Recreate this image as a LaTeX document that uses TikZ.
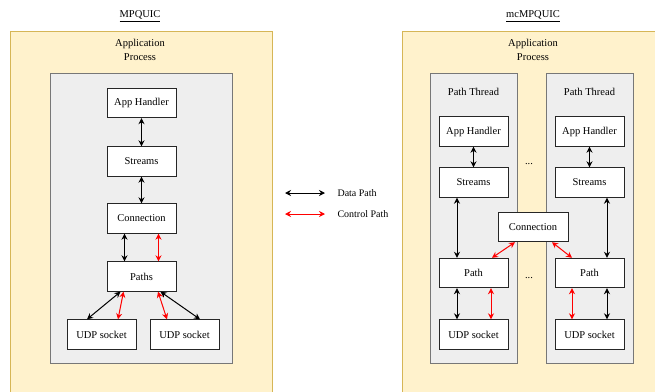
\documentclass[tikz,border=0pt]{standalone}
\usepackage{fontspec}
\setmainfont{Liberation Serif}
\usepackage{tikz}
\usetikzlibrary{arrows.meta, positioning}

\definecolor{procfill}{HTML}{FFF2CC}
\definecolor{procdraw}{HTML}{D6B656}
\definecolor{grpfill}{HTML}{EEEEEE}
\definecolor{grpdraw}{HTML}{777777}

\begin{document}
\begin{tikzpicture}[
  x=1pt, y=-1pt,
  font=\fontsize{10.5}{14}\selectfont,
  proc/.style={fill=procfill, draw=procdraw, line width=0.8pt},
  grp/.style={fill=grpfill, draw=grpdraw, line width=0.9pt},
  blk/.style={draw=black!85, fill=white, line width=0.9pt, minimum width=69pt, minimum height=29.5pt, inner sep=0pt},
  data/.style={{Stealth[length=6pt,width=6pt]}-{Stealth[length=6pt,width=6pt]}, line width=1pt, black},
  ctrl/.style={{Stealth[length=6pt,width=6pt]}-{Stealth[length=6pt,width=6pt]}, line width=1pt, red}
]
  \useasboundingbox (0,0) rectangle (655,391);
  % Process panels
  \draw[proc] (10,31) rectangle (272,400);
  \draw[proc] (402,31) rectangle (665,400);
  \node (tl) at (140,16) {\underline{MPQUIC}};
  \node (tr) at (533,16) {\underline{mcMPQUIC}};
  \node[align=center] (apl) at (140,50) {Application\\Process};
  \node[align=center] (apr) at (533,50) {Application\\Process};

  % ---- MPQUIC ----
  \draw[grp] (50,73) rectangle (232,363);
  \node[blk] (app) at (141.5,103) {App Handler};
  \node[blk] (str) at (141.5,161.5) {Streams};
  \node[blk] (con) at (141.5,218.5) {Connection};
  \node[blk] (pth) at (141.5,276.5) {Paths};
  \node[blk] (udpA) at (101.5,334.5) {UDP socket};
  \node[blk] (udpB) at (184.5,334.5) {UDP socket};
  \draw[data] (app) -- (str);
  \draw[data] (str) -- (con);
  \draw[data] ([xshift=-17pt]con.south) -- ([xshift=-17pt]pth.north);
  \draw[ctrl] ([xshift=17pt]con.south) -- ([xshift=17pt]pth.north);
  \draw[data] ([xshift=-21pt]pth.south) -- ([xshift=-14.5pt]udpA.north);
  \draw[ctrl] ([xshift=-18pt]pth.south) -- ([xshift=16.5pt]udpA.north);
  \draw[ctrl] ([xshift=16.5pt]pth.south) -- ([xshift=-17.5pt]udpB.north);
  \draw[data] ([xshift=19pt]pth.south) -- ([xshift=15.5pt]udpB.north);

  % ---- Legend ----
  \coordinate (d1) at (285,193);
  \coordinate (d2) at (325,193);
  \coordinate (c1) at (285,214);
  \coordinate (c2) at (325,214);
  \draw[data] (d1) -- (d2);
  \draw[ctrl] (c1) -- (c2);
  \node[anchor=west, font=\fontsize{10}{12}\selectfont] (ld) at (334,193) {Data Path};
  \node[anchor=west, font=\fontsize{10}{12}\selectfont] (lc) at (334,214) {Control Path};

  % ---- mcMPQUIC ----
  \foreach \s/\cx/\lx in {L/473.5/430, R/589.5/546}{
    \draw[grp] (\lx,73) rectangle (\lx+87,363);
    \node (th\s) at (\cx,92) {Path Thread};
    \node[blk] (app\s) at (\cx,131.5) {App Handler};
    \node[blk] (str\s) at (\cx,182.5) {Streams};
    \node[blk] (pth\s) at (\cx,273) {Path};
    \node[blk] (udp\s) at (\cx,334.5) {UDP socket};
    \draw[data] (app\s) -- (str\s);
  }
  \node[blk, minimum width=70pt] (conM) at (533,227) {Connection};
  \node (dt1) at (529,164) {...};
  \node (dt2) at (529,278) {...};
  \draw[data] ([xshift=-16.5pt]strL.south) -- ([xshift=-16.5pt]pthL.north);
  \draw[data] ([xshift=17.5pt]strR.south) -- ([xshift=17.5pt]pthR.north);
  \draw[ctrl] ([xshift=-18pt]conM.south) -- ([xshift=18.5pt]pthL.north);
  \draw[ctrl] ([xshift=19pt]conM.south) -- ([xshift=-17.5pt]pthR.north);
  \draw[data] ([xshift=-16.5pt]pthL.south) -- ([xshift=-16.5pt]udpL.north);
  \draw[ctrl] ([xshift=17.5pt]pthL.south) -- ([xshift=17.5pt]udpL.north);
  \draw[ctrl] ([xshift=-17.5pt]pthR.south) -- ([xshift=-17.5pt]udpR.north);
  \draw[data] ([xshift=17.5pt]pthR.south) -- ([xshift=17.5pt]udpR.north);
\end{tikzpicture}
\end{document}
